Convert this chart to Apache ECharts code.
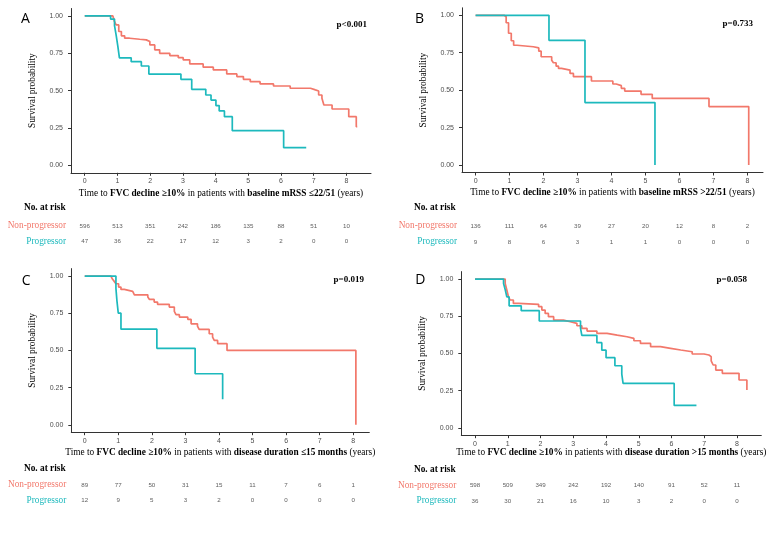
<!DOCTYPE html>
<html><head><meta charset="utf-8">
<script src="https://cdn.jsdelivr.net/npm/echarts@6/dist/echarts.min.js"></script>
<style>html,body{margin:0;padding:0;background:#fff}#c{width:784px;height:538px}</style>
</head><body><div id="c"></div>
<script>
const RED = '#F2786B', TEAL = '#1DB9BD';
const xTicks = [0,1,2,3,4,5,6,7,8];
const yTicks = [0,0.25,0.5,0.75,1];
const riskTimes = [0,1,2,3,4,5,6,7,8];
const groups = ['Non-progressor','Progressor'];

// Panel A
const aNonT = [0,0.86,0.91,0.96,1.04,1.12,1.22,1.37,1.68,1.88,1.99,2.14,2.29,2.60,2.86,3.01,3.21,3.62,3.93,4.34,4.65,4.85,5.06,5.36,5.77,6.28,6.90,7.05,7.15,7.25,7.31,7.56,8.07,8.30,8.33];
const aNonS = [1,0.99,0.962,0.94,0.896,0.867,0.851,0.844,0.84,0.829,0.806,0.773,0.75,0.735,0.721,0.706,0.679,0.657,0.639,0.612,0.594,0.576,0.56,0.545,0.531,0.516,0.505,0.498,0.471,0.449,0.404,0.377,0.326,0.259,0.259];
const aProT = [0,0.79,0.91,0.96,1.01,1.06,1.42,1.73,1.96,2.94,3.27,3.70,3.86,4.01,4.11,4.27,4.51,6.08,6.77];
const aProS = [1,0.979,0.936,0.872,0.80,0.72,0.694,0.665,0.611,0.576,0.509,0.471,0.437,0.40,0.364,0.326,0.232,0.118,0.118];
const aRiskNon = [596,513,351,242,186,135,88,51,10];
const aRiskPro = [47,36,22,17,12,3,2,0,0];

// Panel B
const bNonT = [0,0.84,0.9,0.97,1.05,1.12,1.22,1.7,1.86,1.93,2.24,2.29,2.37,2.44,2.53,2.78,2.88,3.41,4.04,4.14,4.29,4.39,4.87,5.2,6.87,8.04];
const bNonS = [1,0.99,0.95,0.88,0.83,0.80,0.79,0.782,0.76,0.723,0.70,0.683,0.66,0.645,0.634,0.612,0.59,0.561,0.541,0.53,0.512,0.494,0.472,0.445,0.39,0];
const bProT = [0,2.16,3.22,5.28];
const bProS = [1,0.833,0.417,0];
const bRiskNon = [136,111,64,39,27,20,12,8,2];
const bRiskPro = [9,8,6,3,1,1,0,0,0];

// Panel C
const cNonT = [0,0.78,0.83,0.88,0.93,1.01,1.08,1.18,1.43,1.48,1.88,1.93,2.07,2.17,2.52,2.67,2.72,2.82,3.07,3.17,3.36,3.41,3.71,3.81,3.86,3.96,4.24,8.08];
const cNonS = [1,0.987,0.978,0.964,0.948,0.926,0.91,0.897,0.888,0.874,0.859,0.843,0.825,0.81,0.791,0.762,0.74,0.724,0.709,0.679,0.664,0.641,0.612,0.59,0.567,0.545,0.5,0];
const cProT = [0,0.93,0.96,1.0,1.08,2.15,3.29,4.11];
const cProS = [1,0.917,0.833,0.75,0.643,0.514,0.343,0.171];
const cRiskNon = [89,77,50,31,15,11,7,6,1];
const cRiskPro = [12,9,5,3,2,0,0,0,0];

// Panel D
const dNonT = [0,0.92,0.97,1.02,1.07,1.17,1.33,1.94,2.04,2.14,2.24,2.40,2.70,2.91,3.11,3.26,3.42,3.72,4.03,4.34,4.64,4.85,5.05,5.36,5.66,5.97,6.28,6.63,6.99,7.14,7.21,7.27,7.35,7.55,8.06,8.30,8.32];
const dNonS = [1,0.971,0.926,0.881,0.859,0.836,0.83,0.814,0.791,0.769,0.747,0.724,0.713,0.702,0.686,0.668,0.65,0.635,0.623,0.612,0.601,0.585,0.567,0.545,0.534,0.523,0.511,0.496,0.489,0.478,0.449,0.422,0.388,0.366,0.321,0.254,0.254];
const dProT = [0,0.87,0.92,0.97,1.04,1.41,1.96,3.22,3.26,3.72,3.87,4.0,4.27,4.48,4.52,6.08,6.76];
const dProS = [1,0.97,0.93,0.88,0.82,0.787,0.718,0.67,0.621,0.572,0.522,0.471,0.417,0.36,0.298,0.15,0.15];
const dRiskNon = [598,509,349,242,192,140,91,52,11];
const dRiskPro = [36,30,21,16,10,3,2,0,0];

const panels = [
  {letter:'A', p:'p<0.001', xname:'Time to {b|FVC decline ≥10%} in patients with {b|baseline mRSS ≤22/51} (years)',
   grid:{left:71, top:8.5, width:300, height:164.3}, xmin:-0.42, xmax:8.75, nameGap:16,
   risk:{top:218.2, height:31.4}, letterPos:[21,19], pPos:[367,25], narPos:[24,208],
   nonT:aNonT, nonS:aNonS, proT:aProT, proS:aProS, rNon:aRiskNon, rPro:aRiskPro},
  {letter:'B', p:'p=0.733', xname:'Time to {b|FVC decline ≥10%} in patients with {b|baseline mRSS >22/51} (years)',
   grid:{left:462, top:7.8, width:301, height:164.7}, xmin:-0.40, xmax:8.46, nameGap:15.5,
   risk:{top:218, height:32}, letterPos:[415,19], pPos:[753,23.3], narPos:[414,208],
   nonT:bNonT, nonS:bNonS, proT:bProT, proS:bProS, rNon:bRiskNon, rPro:bRiskPro},
  {letter:'C', p:'p=0.019', xname:'Time to {b|FVC decline ≥10%} in patients with {b|disease duration ≤15 months} (years)',
   grid:{left:71.3, top:268.6, width:298, height:163.6}, xmin:-0.40, xmax:8.48, nameGap:15.5,
   risk:{top:477.2, height:31.4}, letterPos:[21.7,281.3], pPos:[364,280], narPos:[24,469],
   nonT:cNonT, nonS:cNonS, proT:cProT, proS:cProS, rNon:cRiskNon, rPro:cRiskPro},
  {letter:'D', p:'p=0.058', xname:'Time to {b|FVC decline ≥10%} in patients with {b|disease duration >15 months} (years)',
   grid:{left:461.3, top:271.6, width:300, height:163.6}, xmin:-0.42, xmax:8.74, nameGap:13,
   risk:{top:478, height:30.6}, letterPos:[415.3,280], pPos:[747,280], narPos:[414,470],
   nonT:dNonT, nonS:dNonS, proT:dProT, proS:dProS, rNon:dRiskNon, rPro:dRiskPro}
];

const SERIF = '"Liberation Serif", "DejaVu Serif", serif';
const SANS = '"Liberation Sans", Arial, sans-serif';

const grid = [], xAxis = [], yAxis = [], series = [], graphic = [];
panels.forEach((P, k) => {
  const gi = grid.length;
  grid.push(Object.assign({containLabel:false}, P.grid));
  grid.push({left:P.grid.left, width:P.grid.width, top:P.risk.top, height:P.risk.height, containLabel:false});
  xAxis.push({
    type:'value', gridIndex:gi, min:P.xmin, max:P.xmax,
    axisLine:{show:true, onZero:false, lineStyle:{color:'#333', width:1}},
    axisTick:{show:true, length:3, customValues:xTicks, lineStyle:{color:'#333'}},
    axisLabel:{customValues:xTicks, fontSize:7, color:'#4d4d4d', fontFamily:SANS, margin:5},
    splitLine:{show:false},
    name:P.xname, nameLocation:'middle', nameGap:P.nameGap,
    nameTextStyle:{fontFamily:SERIF, fontSize:9.3, color:'#000',
      rich:{b:{fontFamily:SERIF, fontSize:9.3, fontWeight:'bold', color:'#000'}}}
  });
  yAxis.push({
    type:'value', gridIndex:gi, min:-0.05, max:1.05,
    axisLine:{show:true, onZero:false, lineStyle:{color:'#333', width:1}},
    axisTick:{show:true, length:3, customValues:yTicks, lineStyle:{color:'#333'}},
    axisLabel:{customValues:yTicks, fontSize:7, color:'#4d4d4d', fontFamily:SANS, margin:8,
      formatter:v => Number(v).toFixed(2)},
    splitLine:{show:false},
    name:'Survival probability', nameLocation:'middle', nameGap:34,
    nameTextStyle:{fontFamily:SERIF, fontSize:9.3, color:'#000'}
  });
  // risk table axes
  xAxis.push({type:'value', gridIndex:gi+1, min:P.xmin, max:P.xmax, show:false});
  yAxis.push({type:'category', gridIndex:gi+1, data:groups, inverse:true,
    axisLine:{show:false}, axisTick:{show:false}, splitLine:{show:false},
    axisLabel:{fontFamily:SERIF, fontSize:9.3, margin:5,
      color:(v) => v === 'Non-progressor' ? RED : TEAL}});

  const xi = gi, yi = gi;
  series.push({type:'line', step:'end', xAxisIndex:xi, yAxisIndex:yi, symbol:'none', silent:true,
    data:P.nonT.map((t,i)=>[t,P.nonS[i]]), lineStyle:{color:RED, width:1.7}, itemStyle:{color:RED}, z:2});
  series.push({type:'line', step:'end', xAxisIndex:xi, yAxisIndex:yi, symbol:'none', silent:true,
    data:P.proT.map((t,i)=>[t,P.proS[i]]), lineStyle:{color:TEAL, width:1.7}, itemStyle:{color:TEAL}, z:3});
  const lbl = {show:true, position:'inside', formatter:p => String(p.value[2]), fontSize:6.2, color:'#333', fontFamily:SANS};
  series.push({type:'scatter', xAxisIndex:gi+1, yAxisIndex:gi+1, symbolSize:1, itemStyle:{color:'rgba(255,255,255,0)'}, silent:true,
    label:lbl, encode:{x:0, y:1}, data:riskTimes.map((t,i)=>[t, 0, P.rNon[i]])});
  series.push({type:'scatter', xAxisIndex:gi+1, yAxisIndex:gi+1, symbolSize:1, itemStyle:{color:'rgba(255,255,255,0)'}, silent:true,
    label:lbl, encode:{x:0, y:1}, data:riskTimes.map((t,i)=>[t, 1, P.rPro[i]])});

  graphic.push({type:'text', x:P.letterPos[0], y:P.letterPos[1],
    style:{text:P.letter, fontSize:14, fontFamily:'"Open Sans", "Noto Sans", sans-serif', fill:'#000',
      align:'left', verticalAlign:'middle', textAlign:'left', textVerticalAlign:'middle'}});
  graphic.push({type:'text', x:P.pPos[0], y:P.pPos[1],
    style:{text:P.p, fontSize:9, fontWeight:'bold', fontFamily:SERIF, fill:'#000',
      align:'right', verticalAlign:'middle', textAlign:'right', textVerticalAlign:'middle'}});
  graphic.push({type:'text', x:P.narPos[0], y:P.narPos[1],
    style:{text:'No. at risk', fontSize:9.3, fontWeight:'bold', fontFamily:SERIF, fill:'#000',
      align:'left', verticalAlign:'middle', textAlign:'left', textVerticalAlign:'middle'}});
});

const chart = echarts.init(document.getElementById('c'));
chart.setOption({animation:false, backgroundColor:'#fff', grid, xAxis, yAxis, series, graphic});
</script></body></html>
